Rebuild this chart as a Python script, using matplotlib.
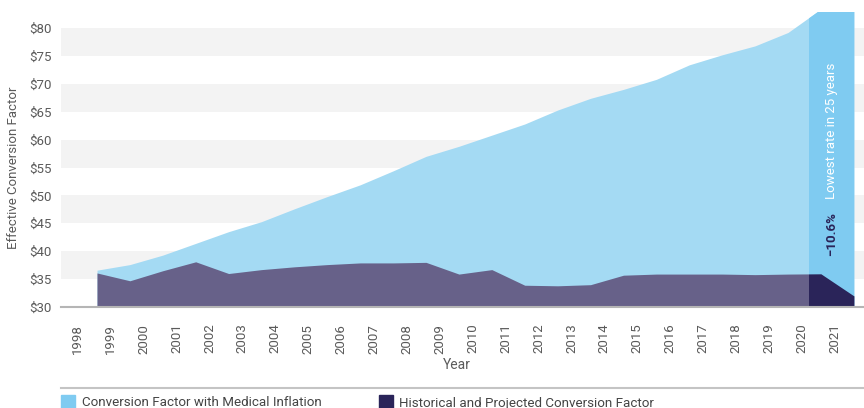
import matplotlib
matplotlib.use('Agg')
import matplotlib.pyplot as plt
from matplotlib.patches import Rectangle
from matplotlib.lines import Line2D

plt.rcParams['font.family'] = ['Roboto', 'DejaVu Sans']

years = list(range(1998, 2022))
medical_inflation = [36.6, 37.6, 39.3, 41.4, 43.5, 45.3, 47.6, 49.8, 51.9, 54.4, 57.0, 58.8,
                     60.8, 62.8, 65.3, 67.4, 69.0, 70.8, 73.4, 75.2, 76.8, 79.2, 83.4, 85.8]
historical = [36.1, 34.7, 36.5, 38.1, 36.0, 36.7, 37.2, 37.6, 37.9, 37.9, 38.0, 35.9,
              36.7, 33.9, 33.8, 34.0, 35.7, 35.9, 35.9, 35.9, 35.8, 35.9, 35.95, 32.0]
year_labels = [str(y) for y in years]
y_ticks = [30, 35, 40, 45, 50, 55, 60, 65, 70, 75, 80]
legend_labels = ['Conversion Factor with Medical Inflation', 'Historical and Projected Conversion Factor']

light = '#A4DAF3'
light_hi = '#7FCBF1'
dark = '#676189'
dark_hi = '#2A2459'
grey_text = '#5a5a5a'
y_top = 82.87

fig = plt.figure(figsize=(8.64, 4.08), dpi=100)
ax = fig.add_axes([61 / 864, 1 - 307 / 408, 1 - 61 / 864, (307 - 12) / 408])

# alternating grey bands
for lo in range(35, 80, 10):
    ax.axhspan(lo, lo + 5, color='#F3F3F3', zorder=0, lw=0)

ax.fill_between(years, 30, medical_inflation, color=light, lw=0, zorder=1)
ax.fill_between(years, 30, historical, color=dark, lw=0, zorder=2)

# highlighted last-year column
clip = Rectangle((2019.64, 30), 2021 - 2019.64, y_top - 30, transform=ax.transData)
a = ax.fill_between(years, 30, medical_inflation, color=light_hi, lw=0, zorder=3)
b = ax.fill_between(years, 30, historical, color=dark_hi, lw=0, zorder=4)
a.set_clip_path(clip)
b.set_clip_path(clip)

ax.text(2020.32, 61.5, 'Lowest rate in 25 years', rotation=90, color='white',
        fontsize=9.5, ha='center', va='center', zorder=5)
ax.text(2020.32, 43.1, '\u221210.6%', rotation=90, color=dark_hi, fontsize=9.5,
        fontweight='bold', ha='center', va='center', zorder=5)

ax.set_xlim(1996.906, 2021.31)
ax.set_ylim(30, y_top)
ax.set_yticks(y_ticks)
ax.set_yticklabels(['$' + str(v) for v in y_ticks])
ax.set_xticks([y - 0.58 for y in years])
ax.set_xticklabels(year_labels, rotation=90)
ax.tick_params(axis='y', length=0, pad=6.5, labelsize=9.5, labelcolor=grey_text)
ax.tick_params(axis='x', length=0, pad=12, labelsize=9.5, labelcolor=grey_text)
for s in ['top', 'right', 'left']:
    ax.spines[s].set_visible(False)
ax.spines['bottom'].set_color('#b5b5b5')
ax.spines['bottom'].set_linewidth(1.5)
ax.spines['bottom'].set_zorder(6)

fig.text(14 / 864, 1 - 168 / 408, 'Effective Conversion Factor', rotation=90,
         ha='center', va='center', fontsize=9.5, color=grey_text)
fig.text(457 / 864, 1 - 365 / 408, 'Year', ha='center', va='center', fontsize=10, color=grey_text)

# legend
fig.add_artist(Line2D([61 / 864, 1], [1 - 387.5 / 408] * 2, color='#c4c4c4', lw=1.5))
fig.add_artist(Rectangle((61 / 864, -0.01), 14 / 864, 0.01 + 13 / 408, color=light_hi,
                         transform=fig.transFigure))
fig.add_artist(Rectangle((379 / 864, -0.01), 14 / 864, 0.01 + 13 / 408, color=dark_hi,
                         transform=fig.transFigure))
fig.text(82 / 864, 1.5 / 408, legend_labels[0], fontsize=9.6, color='#444444', va='baseline')
fig.text(399 / 864, 1.5 / 408, legend_labels[1], fontsize=9.6, color='#444444', va='baseline')

plt.savefig('out.png', dpi=100)
